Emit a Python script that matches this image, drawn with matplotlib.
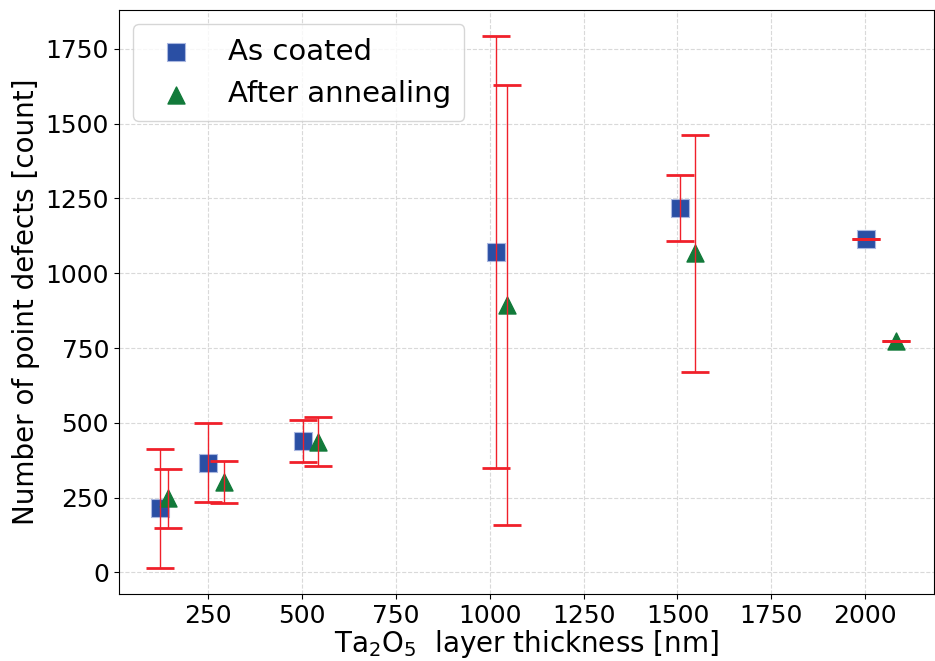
import matplotlib
matplotlib.use("Agg")
import matplotlib.pyplot as plt

# Espessuras e contagens
x_coated = [122, 250, 503, 1018, 1507, 2003]
y_coated = [215, 367, 440, 1070, 1217, 1113]
err_coated = [199, 132, 70, 722, 110, 0]

x_annealed = [144, 293, 543, 1047, 1548, 2083]
y_annealed = [247, 302, 437, 894, 1066, 773]
err_annealed = [100, 69, 83, 735, 397, 0]

fig, ax = plt.subplots(figsize=(9.35, 6.61), dpi=100)
fig.subplots_adjust(left=0.127, right=0.999, top=0.985, bottom=0.101)

ax.grid(True, linestyle='--', color='#d9d9d9', linewidth=0.8)
ax.set_axisbelow(True)

ax.scatter(x_coated, y_coated, marker='s', s=150, color='#2a4fa4',
           edgecolors='#aab8e0', linewidths=0.8, label='As coated', zorder=3)
ax.scatter(x_annealed, y_annealed, marker='^', s=150, color='#127a3a',
           label='After annealing', zorder=3)

ax.errorbar(x_coated, y_coated, yerr=err_coated, fmt='none', ecolor='#f0202a',
            elinewidth=1.0, capsize=10, capthick=2, zorder=4)
ax.errorbar(x_annealed, y_annealed, yerr=err_annealed, fmt='none', ecolor='#f0202a',
            elinewidth=1.0, capsize=10, capthick=2, zorder=4)

ax.set_xlim(13, 2183)
ax.set_ylim(-73, 1880)
ax.set_xticks([250, 500, 750, 1000, 1250, 1500, 1750, 2000])
ax.set_yticks([0, 250, 500, 750, 1000, 1250, 1500, 1750])
ax.tick_params(labelsize=18)

ax.set_xlabel(r'Ta$_2$O$_5$  layer thickness [nm]', fontsize=20, labelpad=0)
ax.set_ylabel('Number of point defects [count]', fontsize=20)

ax.legend(loc='upper left', fontsize=21, handletextpad=0.8, borderpad=0.45)

plt.savefig('out.png', dpi=100)
